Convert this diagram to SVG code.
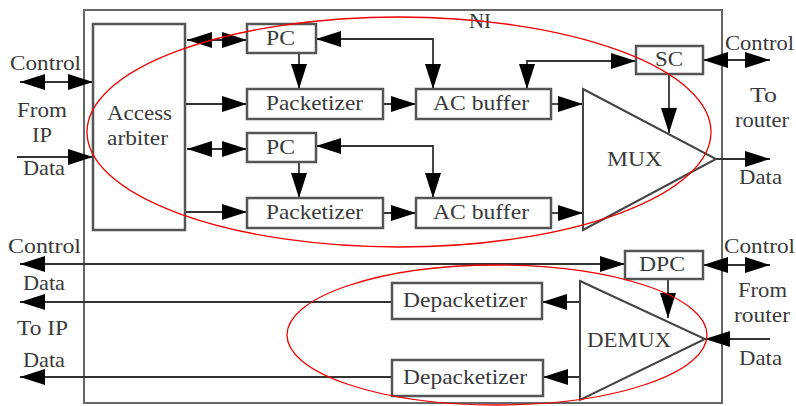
<svg xmlns="http://www.w3.org/2000/svg" width="796" height="406" viewBox="0 0 796 406" font-family="'Liberation Serif', 'DejaVu Serif', serif">
<defs>
<marker id="ah" viewBox="0 0 25 16" refX="25" refY="8" markerWidth="25" markerHeight="16" markerUnits="userSpaceOnUse" orient="auto-start-reverse">
<path d="M0,0 L25,8 L0,16 z" fill="#000"/>
</marker>
<style>
.box{fill:#fff;stroke:#555;stroke-width:2.5}
.tri{fill:#fff;stroke:#444;stroke-width:2}
.ln{fill:none;stroke:#333;stroke-width:1.8}
.e{marker-end:url(#ah)}
.b{marker-start:url(#ah);marker-end:url(#ah)}
text{font-family:'Liberation Serif','DejaVu Serif',serif;font-size:21px;fill:#3a3a3a}
.red{fill:none;stroke:#e00;stroke-width:1.3}
</style>
</defs>
<rect width="796" height="406" fill="#fff"/>
<g id="ni"><rect x="84" y="10" width="638" height="393" fill="none" stroke="#666" stroke-width="2"/>
<text x="469" y="28" textLength="22" lengthAdjust="spacingAndGlyphs">NI</text></g>
<g id="connectors">
<line class="ln b" x1="20" y1="82" x2="93" y2="82"/>
<line class="ln e" x1="17" y1="157" x2="93" y2="157"/>
<line class="ln b" x1="187" y1="40" x2="247" y2="40"/>
<line class="ln e" x1="185" y1="104" x2="247" y2="104"/>
<line class="ln b" x1="187" y1="149" x2="247" y2="149"/>
<line class="ln e" x1="185" y1="212" x2="247" y2="212"/>
<line class="ln e" x1="299" y1="53" x2="299" y2="89"/>
<line class="ln e" x1="299" y1="162" x2="299" y2="198"/>
<path class="ln b" d="M316,39 H433 V89"/>
<path class="ln b" d="M316,146 H433 V198"/>
<line class="ln e" x1="383" y1="104" x2="416" y2="104"/>
<line class="ln e" x1="383" y1="213" x2="416" y2="213"/>
<line class="ln e" x1="551" y1="104" x2="583" y2="104"/>
<line class="ln e" x1="551" y1="213" x2="583" y2="213"/>
<path class="ln b" d="M527,89 V61 H636"/>
<line class="ln e" x1="669" y1="74" x2="669" y2="133"/>
<line class="ln b" x1="703" y1="60" x2="770" y2="60"/>
<line class="ln e" x1="716" y1="159" x2="770" y2="159"/>
<line class="ln b" x1="20" y1="264" x2="625" y2="264"/>
<line class="ln b" x1="703" y1="265" x2="770" y2="265"/>
<line class="ln e" x1="668" y1="279" x2="668" y2="318"/>
<line class="ln e" x1="770" y1="339" x2="705" y2="339"/>
<line class="ln e" x1="580" y1="302" x2="542" y2="302"/>
<line class="ln e" x1="580" y1="377" x2="543" y2="377"/>
<line class="ln e" x1="392" y1="302" x2="20" y2="302"/>
<line class="ln e" x1="392" y1="377" x2="20" y2="377"/>
</g>
<g id="arbiter"><rect class="box" x="93" y="24" width="92" height="206"/>
<text x="107" y="120" textLength="65" lengthAdjust="spacingAndGlyphs">Access</text>
<text x="107" y="145" textLength="61" lengthAdjust="spacingAndGlyphs">arbiter</text></g>
<g id="pc1"><rect class="box" x="247" y="24" width="69" height="29"/><text x="266" y="45" textLength="29" lengthAdjust="spacingAndGlyphs">PC</text></g>
<g id="pc2"><rect class="box" x="247" y="133" width="69" height="29"/><text x="266" y="154" textLength="29" lengthAdjust="spacingAndGlyphs">PC</text></g>
<g id="pkt1"><rect class="box" x="247" y="89" width="136" height="30"/><text x="266" y="110" textLength="97" lengthAdjust="spacingAndGlyphs">Packetizer</text></g>
<g id="pkt2"><rect class="box" x="247" y="198" width="136" height="30"/><text x="266" y="219" textLength="97" lengthAdjust="spacingAndGlyphs">Packetizer</text></g>
<g id="acb1"><rect class="box" x="416" y="89" width="135" height="30"/><text x="433" y="110" textLength="96" lengthAdjust="spacingAndGlyphs">AC buffer</text></g>
<g id="acb2"><rect class="box" x="416" y="198" width="135" height="30"/><text x="433" y="219" textLength="96" lengthAdjust="spacingAndGlyphs">AC buffer</text></g>
<g id="sc"><rect class="box" x="636" y="46" width="67" height="28"/><text x="655" y="66" textLength="28" lengthAdjust="spacingAndGlyphs">SC</text></g>
<g id="mux"><polygon class="tri" points="583,89 716,159 583,230"/><text x="607" y="166" textLength="55" lengthAdjust="spacingAndGlyphs">MUX</text></g>
<g id="dpc"><rect class="box" x="625" y="251" width="78" height="28"/><text x="639" y="271" textLength="46" lengthAdjust="spacingAndGlyphs">DPC</text></g>
<g id="demux"><polygon class="tri" points="580,281 705,339 580,400"/><text x="587" y="347" textLength="84" lengthAdjust="spacingAndGlyphs">DEMUX</text></g>
<g id="depkt1"><rect class="box" x="392" y="283" width="150" height="36"/><text x="403" y="307" textLength="124" lengthAdjust="spacingAndGlyphs">Depacketizer</text></g>
<g id="depkt2"><rect class="box" x="392" y="360" width="151" height="36"/><text x="403" y="384" textLength="124" lengthAdjust="spacingAndGlyphs">Depacketizer</text></g>
<g id="labels">
<text x="10" y="70" textLength="71" lengthAdjust="spacingAndGlyphs">Control</text>
<text x="17" y="117" textLength="50" lengthAdjust="spacingAndGlyphs">From</text>
<text x="32" y="142" textLength="20" lengthAdjust="spacingAndGlyphs">IP</text>
<text x="23" y="175" textLength="42" lengthAdjust="spacingAndGlyphs">Data</text>
<text x="725" y="50" textLength="69" lengthAdjust="spacingAndGlyphs">Control</text>
<text x="750" y="102" textLength="27" lengthAdjust="spacingAndGlyphs">To</text>
<text x="735" y="127" textLength="54" lengthAdjust="spacingAndGlyphs">router</text>
<text x="739" y="184" textLength="43" lengthAdjust="spacingAndGlyphs">Data</text>
<text x="8" y="253" textLength="73" lengthAdjust="spacingAndGlyphs">Control</text>
<text x="23" y="290" textLength="42" lengthAdjust="spacingAndGlyphs">Data</text>
<text x="17" y="335" textLength="51" lengthAdjust="spacingAndGlyphs">To IP</text>
<text x="23" y="367" textLength="42" lengthAdjust="spacingAndGlyphs">Data</text>
<text x="724" y="253" textLength="71" lengthAdjust="spacingAndGlyphs">Control</text>
<text x="738" y="297" textLength="49" lengthAdjust="spacingAndGlyphs">From</text>
<text x="734" y="322" textLength="56" lengthAdjust="spacingAndGlyphs">router</text>
<text x="739" y="365" textLength="43" lengthAdjust="spacingAndGlyphs">Data</text>
</g>
<g id="highlights">
<ellipse class="red" cx="399" cy="132" rx="312" ry="115"/>
<ellipse class="red" cx="497" cy="335" rx="210" ry="70"/>
</g>
</svg>
